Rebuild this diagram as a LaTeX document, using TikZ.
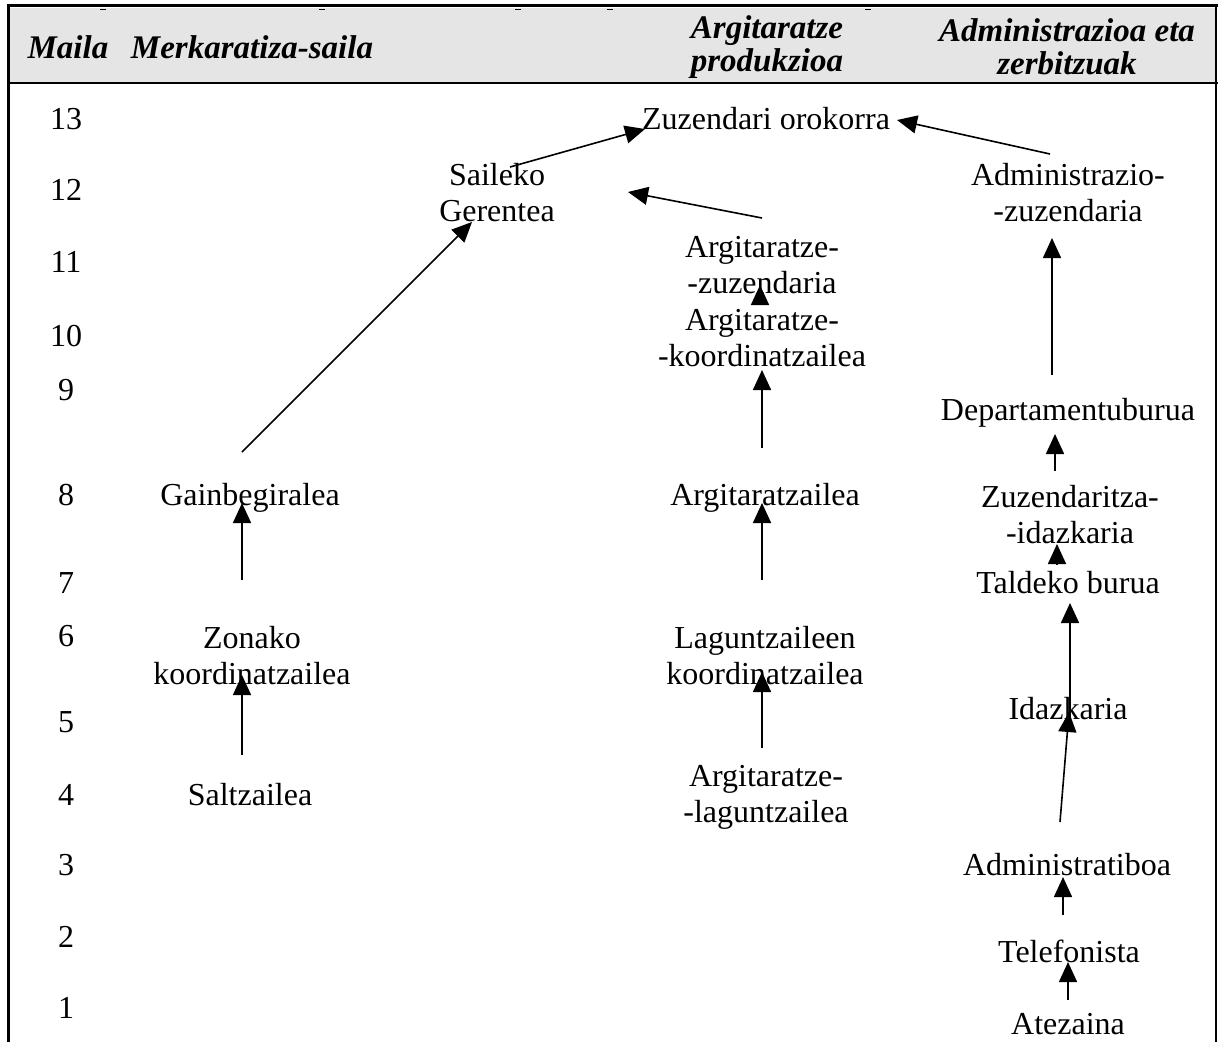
\documentclass[tikz,border=0pt]{standalone}
\usepackage{fontspec}
\setmainfont{Liberation Serif}
\usetikzlibrary{arrows.meta}
\begin{document}
\begin{tikzpicture}[x=1pt,y=-1pt,
  lbl/.style={inner sep=0pt, align=center, font=\fontsize{32}{36}\selectfont},
  one/.style={lbl, text height=22pt, text depth=7pt},
  hdr/.style={inner sep=0pt, align=center, font=\fontsize{33}{33}\selectfont\bfseries\itshape},
  up/.style={line width=1.6pt, -{Triangle[length=20pt,width=18pt]}},
  frame/.style={line width=#1, line cap=butt}]
\useasboundingbox (0,0) rectangle (1218,1042);

% header band and table rules
\fill[gray!20] (10,8) rectangle (1216,83);
\draw[frame=2.5pt] (7,5.5) -- (1218,5.5);
\draw[frame=2.5pt] (8,83) -- (1218,83);
\draw[frame=3.5pt] (8.5,4) -- (8.5,1042);
\draw[frame=1.2pt] (1216,4) -- (1216,1042);
\foreach \t in {103,322,518,610,868}
  \draw[frame=1.2pt] (\t-3,9.5) -- (\t+3,9.5);

% column headings
\node[hdr] (hmaila) at (68,47) {Maila};
\node[hdr] (hmerk) at (252,47) {Merkaratiza-saila};
\node[hdr] (hargi) at (767,47) {Argitaratze\\produkzioa};
\node[hdr] (hadmin) at (1067,47) {Administrazioa eta\\zerbitzuak};

% level numbers
\foreach \n/\y in {13/119,12/190,11/262,10/336,9/390,8/495,7/583,6/636,5/722,4/795,3/865,2/937,1/1008}
  \node[one] (n\n) at (66,\y+3) {\n};

% positions
\node[one] (zuz) at (766,122) {Zuzendari orokorra};
\node[lbl] (sail) at (497,193) {Saileko\\Gerentea};
\node[lbl] (admzuz) at (1068,193) {Administrazio-\\-zuzendaria};
\node[lbl] (argzuz) at (762,265) {Argitaratze-\\-zuzendaria};
\node[lbl] (argkoord) at (762,338) {Argitaratze-\\-koordinatzailea};
\node[one] (dept) at (1068,413) {Departamentuburua};
\node[one] (gain) at (250,498) {Gainbegiralea};
\node[one] (argitz) at (765,498) {Argitaratzailea};
\node[lbl] (zidaz) at (1070,515) {Zuzendaritza-\\-idazkaria};
\node[one] (tald) at (1068,586) {Taldeko burua};
\node[lbl] (zona) at (252,656) {Zonako\\koordinatzailea};
\node[lbl] (lagk) at (765,656) {Laguntzaileen\\koordinatzailea};
\node[one] (idaz) at (1068,712) {Idazkaria};
\node[one] (salt) at (250,798) {Saltzailea};
\node[lbl] (arglag) at (766,797) {Argitaratze-\\-laguntzailea};
\node[one] (admtib) at (1067,868) {Administratiboa};
\node[one] (tele) at (1069,955) {Telefonista};
\node[one] (atez) at (1068,1027) {Atezaina};

% connector end points
\coordinate (sailT) at (510,167);   \coordinate (zuzL) at (645,129);
\coordinate (argzuzT) at (762,218); \coordinate (sailR) at (628,192);
\coordinate (admzuzT) at (1050,154); \coordinate (zuzR) at (897,120);
\coordinate (gainT) at (242,452);   \coordinate (sailB) at (472,222);
\coordinate (admzuzF) at (1052,375); \coordinate (admzuzB) at (1052,238);
\coordinate (argkoordT) at (760,304); \coordinate (argzuzB) at (760,285);
\coordinate (argitzT) at (762,448); \coordinate (argkoordB) at (762,370);
\coordinate (zidazT) at (1055,471); \coordinate (deptB) at (1055,434);
\coordinate (taldT) at (1057,564);  \coordinate (zidazB) at (1057,544);
\coordinate (idazT) at (1070,722);  \coordinate (taldB) at (1070,603);
\coordinate (admtibT) at (1060,822); \coordinate (idazB) at (1069,712);
\coordinate (teleT) at (1063,915);  \coordinate (admtibB) at (1063,877);
\coordinate (atezT) at (1068,1000); \coordinate (teleB) at (1068,962);
\coordinate (zonaT) at (242,580);   \coordinate (gainB) at (242,503);
\coordinate (saltT) at (242,755);   \coordinate (zonaB) at (242,675);
\coordinate (lagkT) at (762,580);   \coordinate (argitzB) at (762,503);
\coordinate (arglagT) at (762,748); \coordinate (lagkB) at (762,672);

% reporting lines
\draw[up] (sailT) -- (zuzL);
\draw[up] (argzuzT) -- (sailR);
\draw[up] (admzuzT) -- (zuzR);
\draw[up] (gainT) -- (sailB);
\draw[up] (admzuzF) -- (admzuzB);
\draw[up] (argkoordT) -- (argzuzB);
\draw[up] (argitzT) -- (argkoordB);
\draw[up] (zidazT) -- (deptB);
\draw[up] (taldT) -- (zidazB);
\draw[up] (idazT) -- (taldB);
\draw[up] (admtibT) -- (idazB);
\draw[up] (teleT) -- (admtibB);
\draw[up] (atezT) -- (teleB);
\draw[up] (zonaT) -- (gainB);
\draw[up] (saltT) -- (zonaB);
\draw[up] (lagkT) -- (argitzB);
\draw[up] (arglagT) -- (lagkB);
\end{tikzpicture}
\end{document}
